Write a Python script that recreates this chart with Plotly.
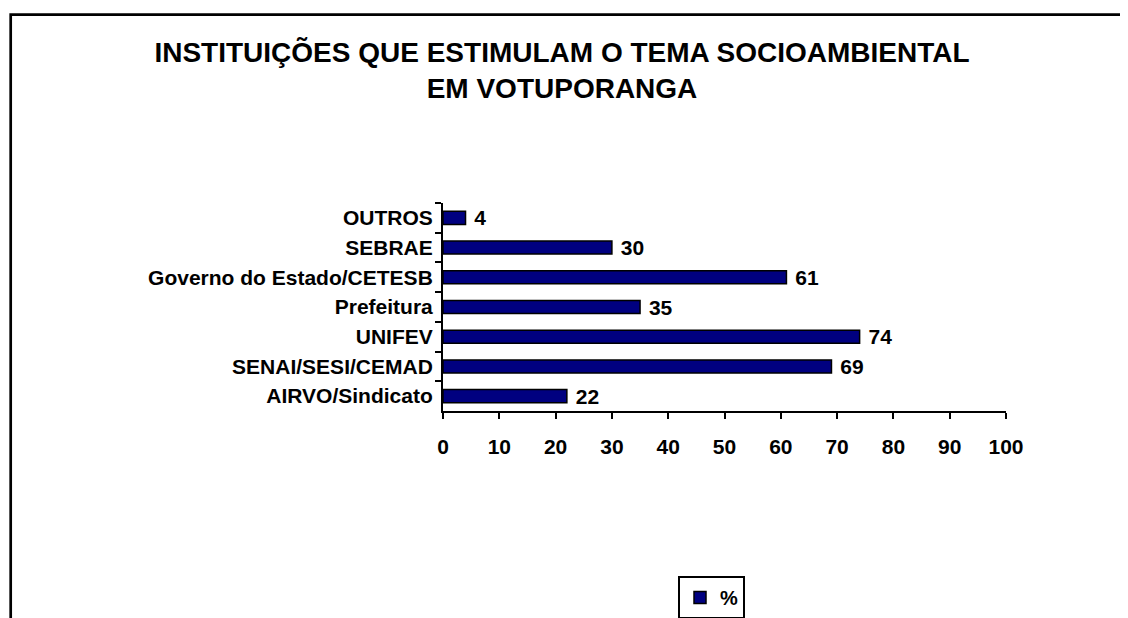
import plotly.graph_objects as go

# ── Data ─────────────────────────────────────────────────────────────────────

CATEGORIES = [
    "AIRVO/Sindicato",
    "SENAI/SESI/CEMAD",
    "UNIFEV",
    "Prefeitura",
    "Governo do Estado/CETESB",
    "SEBRAE",
    "OUTROS",
]
PERCENT = [22, 69, 74, 35, 61, 30, 4]
SERIES_NAME = "%"
TITLE = "INSTITUIÇÕES QUE ESTIMULAM O TEMA SOCIOAMBIENTAL<br>EM VOTUPORANGA"

W, H = 1128, 618
PAGE_MARGIN = 8          # default <body> margin of the written html page
FONT = "Arial, Liberation Sans, sans-serif"
NAVY = "#000080"


# screen pixel -> paper fraction (margins are zero, so paper == whole figure)
def px_x(x):
    return (x - PAGE_MARGIN) / W


def px_y(y):
    return 1 - (y - PAGE_MARGIN) / H


# ── Figure ───────────────────────────────────────────────────────────────────

fig = go.Figure(
    go.Bar(
        x=PERCENT,
        y=CATEGORIES,
        orientation="h",
        name=SERIES_NAME,
        showlegend=True,
        marker=dict(color=NAVY, line=dict(color="black", width=1.5)),
        text=PERCENT,
        texttemplate="\u00a0%{x}",
        textposition="outside",
        constraintext="none",
        cliponaxis=False,
        textfont=dict(family=FONT, size=21, color="black", weight="bold"),
    )
)

fig.update_layout(
    width=W,
    height=H,
    margin=dict(l=0, r=0, t=0, b=0, autoexpand=False),
    paper_bgcolor="white",
    plot_bgcolor="white",
    bargap=0.56,
    font=dict(family=FONT, color="black"),
    title=dict(
        text=TITLE,
        x=px_x(562),
        xanchor="center",
        y=px_y(62),
        yanchor="middle",
        yref="container",
        automargin=False,
        font=dict(family=FONT, size=28, color="black", weight="bold"),
    ),
    legend=dict(
        x=px_x(678),
        y=px_y(576),
        xanchor="left",
        yanchor="top",
        bordercolor="black",
        borderwidth=2,
        bgcolor="white",
        font=dict(family=FONT, size=20, color="black", weight="bold"),
    ),
    shapes=[
        # outer chart-area frame (left and top edges visible)
        dict(
            type="path",
            xref="paper",
            yref="paper",
            path=f"M {px_x(10.7)},0 L {px_x(10.7)},{px_y(14.7)} L 1,{px_y(14.7)}",
            line=dict(color="black", width=2.7),
        )
    ],
)

fig.update_xaxes(
    domain=[px_x(443), px_x(1006)],
    range=[0, 100],
    dtick=10,
    automargin=False,
    showgrid=False,
    zeroline=False,
    showline=True,
    linecolor="black",
    linewidth=2,
    ticks="outside",
    ticklen=6,
    tickwidth=2,
    tickcolor="black",
    ticklabelstandoff=10,
    tickfont=dict(family=FONT, size=21, color="black", weight="bold"),
)

fig.update_yaxes(
    domain=[px_y(411), px_y(203)],
    automargin=False,
    showgrid=False,
    showline=True,
    linecolor="black",
    linewidth=2,
    ticks="outside",
    ticklen=6,
    tickwidth=2,
    tickcolor="black",
    tickson="boundaries",
    ticklabelstandoff=4,
    tickfont=dict(family=FONT, size=21, color="black", weight="bold"),
)

fig.write_html("out.html")
